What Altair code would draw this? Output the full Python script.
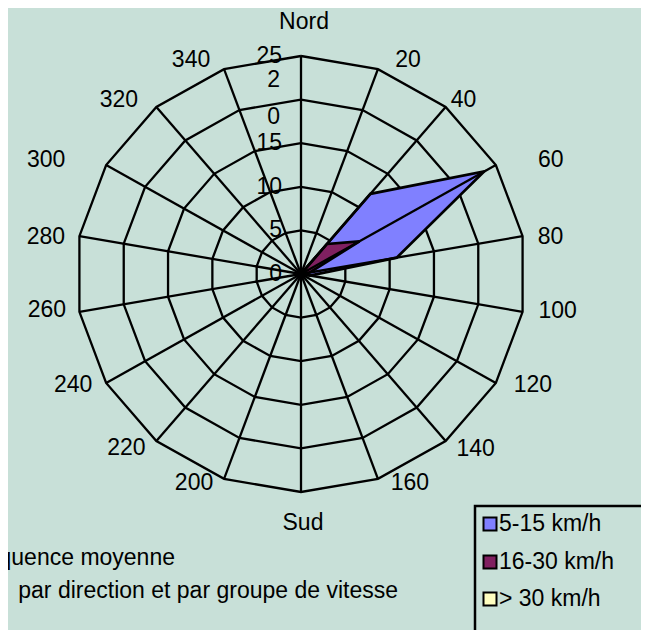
import math
import altair as alt
import pandas as pd

# ---- data ----
directions = [0, 20, 40, 60, 80, 100, 120, 140, 160, 180, 200, 220, 240, 260, 280, 300, 320, 340]
dir_labels = ["Nord", "20", "40", "60", "80", "100", "120", "140", "160", "Sud",
              "200", "220", "240", "260", "280", "300", "320", "340"]
series_names = ["5-15 km/h", "16-30 km/h", "> 30 km/h"]
series_colors = ["#8080FF", "#802060", "#FFFFC0"]
v_5_15 = [0, 0, 12, 23.5, 10.8, 1, 0, 0, 0, 0, 0, 0, 0, 0, 0, 0, 0, 0]
v_16_30 = [0, 0, 4.5, 7.5, 1, 0, 0, 0, 0, 0, 0, 0, 0, 0, 0, 0, 0, 0]
v_30 = [0, 0, 0, 0, 0, 0, 0, 0, 0, 0, 0, 0, 0, 0, 0, 0, 0, 0]
ring_values = [5, 10, 15, 20, 25]
tick_values = [0, 5, 10, 15, 25]
tick_labels = ["0", "5", "10", "15", "25"]
tick20_value = 20
tick20_label = "2\n0"
title_lines = ["Fréquence moyenne", "par direction et  par groupe de vitesse"]

# ---- layout ----
W, H = 633, 622
CX, CY = 293, 266            # centre in chart pixels
PX_X, PX_Y = 9.0, 8.72       # pixels per unit
FONT = "Liberation Sans"
FS = 23
BG = "#C8E0D8"
SW = 2.3
# label centre offsets (px) from the outer vertex, Excel-like placement
label_offsets = [(3, -34), (30, -9), (18, -7), (55, -5), (28, 1), (35, -1),
                 (37, 1.5), (30, 8.5), (32, 4.6), (2, 31), (-30, 4.6), (-30, 7.5),
                 (-33, 1.5), (-32.5, -1.4), (-33.5, 1), (-60, -5), (-37.5, -7), (-33, -9)]

xdom = [-CX / PX_X, (W - CX) / PX_X]
ydom = [-(H - CY) / PX_Y, CY / PX_Y]
xs = alt.Scale(domain=xdom, nice=False, zero=False)
ys = alt.Scale(domain=ydom, nice=False, zero=False)


def px2x(p):
    return (p - CX) / PX_X


def px2y(p):
    return (CY - p) / PX_Y


def pol(v, a):
    r = math.radians(a)
    return v * math.sin(r), v * math.cos(r)


X = alt.X("x:Q", scale=xs, axis=None)
Y = alt.Y("y:Q", scale=ys, axis=None)

# rings
ring_rows = []
for rv in ring_values:
    for i, a in enumerate(directions + [directions[0]]):
        x, y = pol(rv, a)
        ring_rows.append({"ring": rv, "i": i, "x": x, "y": y})
rings = pd.DataFrame(ring_rows)

# spokes
spk = pd.DataFrame([{"x": 0.0, "y": 0.0, "x2": pol(25, a)[0], "y2": pol(25, a)[1]} for a in directions])

# series polygons
poly_rows = []
for s, (name, vals) in enumerate(zip(series_names, [v_5_15, v_16_30, v_30])):
    for i, (a, v) in enumerate(zip(directions + [directions[0]], vals + [vals[0]])):
        x, y = pol(v, a)
        poly_rows.append({"series": name, "s": s, "i": i, "x": x, "y": y})
polys = pd.DataFrame(poly_rows)

# direction labels
lab_rows = []
for a, t, (ox, oy) in zip(directions, dir_labels, label_offsets):
    x, y = pol(25, a)
    lab_rows.append({"t": t, "x": x + ox / PX_X, "y": y - oy / PX_Y})
labs = pd.DataFrame(lab_rows)

ticks = pd.DataFrame({"t": tick_labels, "x": [0.0] * len(tick_values), "y": tick_values})
tick20 = pd.DataFrame({"t": [tick20_label], "x": [0.0], "y": [tick20_value]})

ring_layer = alt.Chart(rings).mark_line(color="black", strokeWidth=SW).encode(
    x=X, y=Y, detail="ring:N", order="i:Q")

spoke_layer = alt.Chart(spk).mark_rule(color="black", strokeWidth=SW).encode(
    x=X, y=Y, x2="x2:Q", y2="y2:Q")

poly_layers = []
for name, col in zip(series_names, series_colors):
    poly_layers.append(
        alt.Chart(polys[polys.series == name]).mark_line(strokeWidth=SW + 0.4, strokeJoin="miter").encode(
            x=X, y=Y, order="i:Q", fill=alt.value(col), stroke=alt.value("black")))

dir_layer = alt.Chart(labs).mark_text(font=FONT, fontSize=FS, color="black",
                                      align="center", baseline="middle").encode(
    x=X, y=Y, text="t:N")

tick_layer = alt.Chart(ticks).mark_text(font=FONT, fontSize=FS, color="black",
                                        align="right", baseline="middle", dx=-19).encode(
    x=X, y=Y, text="t:N")
tick20_layer = alt.Chart(tick20).mark_text(font=FONT, fontSize=FS, color="black",
                                           align="right", baseline="middle", dx=-21, dy=-20,
                                           lineBreak="\n", lineHeight=37).encode(
    x=X, y=Y, text="t:N")

# title text (partly outside on the left)
title_df = pd.DataFrame({"t": title_lines,
                         "x": [px2x(167), px2x(390)],
                         "y": [px2y(550), px2y(583)]})
title_layer = alt.Chart(title_df).mark_text(font=FONT, fontSize=FS, color="black",
                                            align="right", baseline="middle").encode(
    x=X, y=Y, text="t:N")

# legend
box_df = pd.DataFrame({"x": [px2x(467)], "x2": [px2x(720)], "y": [px2y(498)], "y2": [px2y(720)]})
box_layer = alt.Chart(box_df).mark_rect(fill=BG, stroke="black", strokeWidth=2.5, clip=False).encode(
    x=X, y=Y, x2="x2:Q", y2="y2:Q")

leg_y = [516, 554, 591]
leg_df = pd.DataFrame({"series": series_names, "col": series_colors,
                       "x": [px2x(482)] * 3, "tx": [px2x(491)] * 3,
                       "y": [px2y(v) for v in leg_y]})
leg_sq = alt.Chart(leg_df).mark_square(size=169, stroke="black", strokeWidth=2, opacity=1, filled=True).encode(
    x=X, y=Y, fill=alt.Fill("col:N", scale=None))
leg_tx = alt.Chart(leg_df).mark_text(font=FONT, fontSize=FS, color="black", align="left", baseline="middle").encode(
    x=alt.X("tx:Q", scale=xs, axis=None), y=Y, text="series:N")

chart = alt.layer(ring_layer, *poly_layers, spoke_layer, dir_layer, tick_layer, tick20_layer,
                  title_layer, box_layer, leg_sq, leg_tx).properties(
    width=W, height=H, background=BG, padding=0, autosize=alt.AutoSizeParams(type="none")
).configure_view(stroke=None)

chart.save("out.html", embed_options={"renderer": "svg", "actions": False})
